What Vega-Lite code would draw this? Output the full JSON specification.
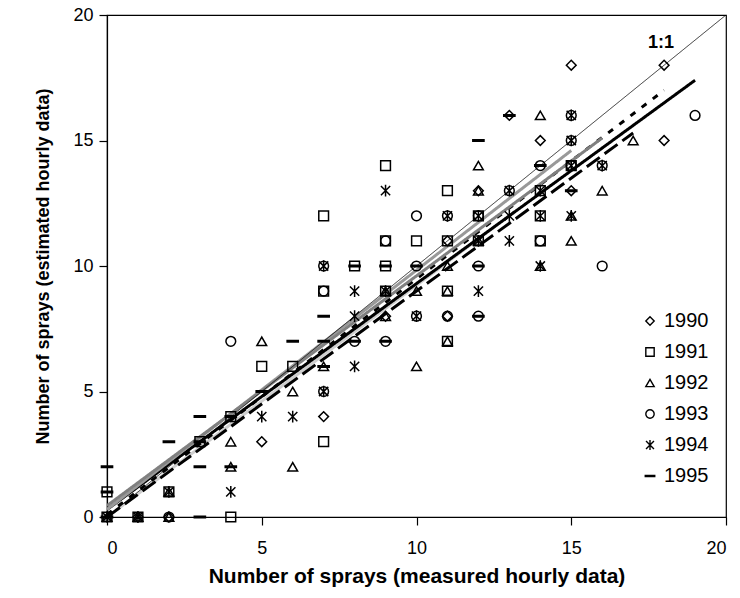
{
  "$schema": "https://vega.github.io/schema/vega-lite/v6.json",
  "width": 619,
  "height": 502,
  "autosize": "none",
  "padding": {"left": 107, "top": 15, "right": 14, "bottom": 81},
  "background": "white",
  "config": {
    "font": "Liberation Sans",
    "view": {"stroke": "black", "strokeWidth": 1.2},
    "axis": {"grid": false, "domainColor": "black", "tickColor": "black", "labelColor": "black", "titleColor": "black", "labelFont": "Liberation Sans", "titleFont": "Liberation Sans", "labelFontSize": 18, "titleFontWeight": "bold", "tickSize": 8, "domainWidth": 1.2, "tickWidth": 1.2}
  },
  "resolve": {"scale": {"color": "independent", "strokeDash": "independent", "shape": "independent"}},
  "datasets": {
    "pts": [
      {"year": "1991", "x": 0, "y": 0}, {"year": "1992", "x": 0, "y": 0}, {"year": "1994", "x": 0, "y": 0}, {"year": "1995", "x": 0, "y": 0},
      {"year": "1991", "x": 0, "y": 1}, {"year": "1995", "x": 0, "y": 1}, {"year": "1995", "x": 0, "y": 2},
      {"year": "1990", "x": 1, "y": 0}, {"year": "1991", "x": 1, "y": 0}, {"year": "1992", "x": 1, "y": 0}, {"year": "1994", "x": 1, "y": 0},
      {"year": "1992", "x": 2, "y": 0}, {"year": "1993", "x": 2, "y": 0}, {"year": "1990", "x": 2, "y": 0},
      {"year": "1994", "x": 2, "y": 1}, {"year": "1991", "x": 2, "y": 1}, {"year": "1992", "x": 2, "y": 1}, {"year": "1995", "x": 2, "y": 3},
      {"year": "1995", "x": 3, "y": 0}, {"year": "1995", "x": 3, "y": 2}, {"year": "1991", "x": 3, "y": 3}, {"year": "1995", "x": 3, "y": 3}, {"year": "1995", "x": 3, "y": 4},
      {"year": "1991", "x": 4, "y": 0}, {"year": "1994", "x": 4, "y": 1}, {"year": "1992", "x": 4, "y": 2}, {"year": "1995", "x": 4, "y": 2},
      {"year": "1992", "x": 4, "y": 3}, {"year": "1991", "x": 4, "y": 4}, {"year": "1995", "x": 4, "y": 4}, {"year": "1993", "x": 4, "y": 7},
      {"year": "1990", "x": 5, "y": 3}, {"year": "1994", "x": 5, "y": 4}, {"year": "1995", "x": 5, "y": 5}, {"year": "1991", "x": 5, "y": 6}, {"year": "1992", "x": 5, "y": 7},
      {"year": "1992", "x": 6, "y": 2}, {"year": "1994", "x": 6, "y": 4}, {"year": "1992", "x": 6, "y": 5}, {"year": "1991", "x": 6, "y": 6}, {"year": "1995", "x": 6, "y": 7},
      {"year": "1991", "x": 7, "y": 3}, {"year": "1990", "x": 7, "y": 4}, {"year": "1994", "x": 7, "y": 5}, {"year": "1993", "x": 7, "y": 5},
      {"year": "1992", "x": 7, "y": 6}, {"year": "1995", "x": 7, "y": 6}, {"year": "1995", "x": 7, "y": 7}, {"year": "1995", "x": 7, "y": 8},
      {"year": "1991", "x": 7, "y": 9}, {"year": "1993", "x": 7, "y": 9}, {"year": "1994", "x": 7, "y": 10}, {"year": "1993", "x": 7, "y": 10}, {"year": "1991", "x": 7, "y": 12},
      {"year": "1994", "x": 8, "y": 6}, {"year": "1993", "x": 8, "y": 7}, {"year": "1995", "x": 8, "y": 7}, {"year": "1994", "x": 8, "y": 8}, {"year": "1994", "x": 8, "y": 9},
      {"year": "1991", "x": 8, "y": 10}, {"year": "1995", "x": 8, "y": 10},
      {"year": "1993", "x": 9, "y": 7}, {"year": "1995", "x": 9, "y": 7}, {"year": "1992", "x": 9, "y": 8}, {"year": "1990", "x": 9, "y": 8},
      {"year": "1991", "x": 9, "y": 9}, {"year": "1994", "x": 9, "y": 9}, {"year": "1992", "x": 9, "y": 9},
      {"year": "1991", "x": 9, "y": 10}, {"year": "1995", "x": 9, "y": 10}, {"year": "1991", "x": 9, "y": 11}, {"year": "1993", "x": 9, "y": 11},
      {"year": "1994", "x": 9, "y": 13}, {"year": "1991", "x": 9, "y": 14},
      {"year": "1992", "x": 10, "y": 6}, {"year": "1994", "x": 10, "y": 8}, {"year": "1993", "x": 10, "y": 8}, {"year": "1992", "x": 10, "y": 9},
      {"year": "1993", "x": 10, "y": 10}, {"year": "1995", "x": 10, "y": 10}, {"year": "1991", "x": 10, "y": 11}, {"year": "1993", "x": 10, "y": 12},
      {"year": "1991", "x": 11, "y": 7}, {"year": "1992", "x": 11, "y": 7}, {"year": "1990", "x": 11, "y": 8}, {"year": "1993", "x": 11, "y": 8},
      {"year": "1991", "x": 11, "y": 9}, {"year": "1992", "x": 11, "y": 9}, {"year": "1992", "x": 11, "y": 10},
      {"year": "1991", "x": 11, "y": 11}, {"year": "1990", "x": 11, "y": 11}, {"year": "1994", "x": 11, "y": 12}, {"year": "1993", "x": 11, "y": 12}, {"year": "1991", "x": 11, "y": 13},
      {"year": "1993", "x": 12, "y": 8}, {"year": "1995", "x": 12, "y": 8}, {"year": "1994", "x": 12, "y": 9}, {"year": "1993", "x": 12, "y": 10}, {"year": "1995", "x": 12, "y": 10},
      {"year": "1991", "x": 12, "y": 11}, {"year": "1994", "x": 12, "y": 11}, {"year": "1992", "x": 12, "y": 11},
      {"year": "1991", "x": 12, "y": 12}, {"year": "1994", "x": 12, "y": 12}, {"year": "1993", "x": 12, "y": 12},
      {"year": "1992", "x": 12, "y": 13}, {"year": "1990", "x": 12, "y": 13}, {"year": "1992", "x": 12, "y": 14}, {"year": "1995", "x": 12, "y": 15},
      {"year": "1994", "x": 13, "y": 11}, {"year": "1994", "x": 13, "y": 12}, {"year": "1994", "x": 13, "y": 13}, {"year": "1993", "x": 13, "y": 13},
      {"year": "1990", "x": 13, "y": 16}, {"year": "1995", "x": 13, "y": 16},
      {"year": "1994", "x": 14, "y": 10}, {"year": "1992", "x": 14, "y": 10}, {"year": "1991", "x": 14, "y": 11}, {"year": "1993", "x": 14, "y": 11},
      {"year": "1994", "x": 14, "y": 12}, {"year": "1991", "x": 14, "y": 12}, {"year": "1991", "x": 14, "y": 13}, {"year": "1994", "x": 14, "y": 13},
      {"year": "1993", "x": 14, "y": 14}, {"year": "1995", "x": 14, "y": 14}, {"year": "1990", "x": 14, "y": 15}, {"year": "1992", "x": 14, "y": 16},
      {"year": "1992", "x": 15, "y": 11}, {"year": "1994", "x": 15, "y": 12}, {"year": "1992", "x": 15, "y": 12},
      {"year": "1990", "x": 15, "y": 13}, {"year": "1995", "x": 15, "y": 13},
      {"year": "1994", "x": 15, "y": 14}, {"year": "1993", "x": 15, "y": 14}, {"year": "1991", "x": 15, "y": 14},
      {"year": "1994", "x": 15, "y": 15}, {"year": "1993", "x": 15, "y": 15}, {"year": "1994", "x": 15, "y": 16}, {"year": "1993", "x": 15, "y": 16},
      {"year": "1990", "x": 15, "y": 18},
      {"year": "1993", "x": 16, "y": 10}, {"year": "1992", "x": 16, "y": 13}, {"year": "1994", "x": 16, "y": 14}, {"year": "1993", "x": 16, "y": 14},
      {"year": "1992", "x": 17, "y": 15},
      {"year": "1990", "x": 18, "y": 15}, {"year": "1990", "x": 18, "y": 18},
      {"year": "1993", "x": 19, "y": 16}
    ],
    "lines": [
      {"line": "1995", "x": 0, "y": 0.0}, {"line": "1995", "x": 13, "y": 12.0},
      {"line": "1990", "x": 0, "y": 0.1}, {"line": "1990", "x": 18, "y": 17.0},
      {"line": "1992", "x": 0, "y": 0.0}, {"line": "1992", "x": 17, "y": 15.3},
      {"line": "1993", "x": 0, "y": 0.3}, {"line": "1993", "x": 19, "y": 17.4},
      {"line": "1991", "x": 0, "y": 0.3}, {"line": "1991", "x": 15, "y": 14.6},
      {"line": "1994", "x": 0, "y": 0.45}, {"line": "1994", "x": 16, "y": 15.1},
      {"line": "1:1", "x": 0, "y": 0}, {"line": "1:1", "x": 20, "y": 20}
    ],
    "label": [{"x": 17.9, "y": 18.9, "t": "1:1"}]
  },
  "layer": [
    {
      "data": {"name": "lines"},
      "mark": {"type": "line", "clip": true},
      "encoding": {
        "x": {"field": "x", "type": "quantitative", "scale": {"domain": [0, 20]}, "axis": {"values": [0, 5, 10, 15, 20], "title": "Number of sprays (measured hourly data)", "titleFontSize": 21, "labelPadding": 14, "titlePadding": 8}},
        "y": {"field": "y", "type": "quantitative", "scale": {"domain": [0, 20]}, "axis": {"values": [0, 5, 10, 15, 20], "title": "Number of sprays (estimated hourly data)", "titleFontSize": 18, "labelPadding": 6, "titlePadding": 20}},
        "detail": {"field": "line"},
        "color": {"field": "line", "type": "nominal", "legend": null, "scale": {"domain": ["1995", "1990", "1992", "1993", "1991", "1994", "1:1"], "range": ["#cfcfcf", "black", "black", "black", "#999999", "#808080", "black"]}},
        "strokeDash": {"field": "line", "type": "nominal", "legend": null, "scale": {"domain": ["1995", "1990", "1992", "1993", "1991", "1994", "1:1"], "range": [[1, 0], [6, 8], [16, 6], [1, 0], [1, 0], [1, 0], [1, 0]]}},
        "strokeWidth": {"condition": {"test": "datum.line === '1:1'", "value": 0.8}, "value": 3},
        "order": {"field": "x"}
      }
    },
    {
      "data": {"name": "pts"},
      "mark": {"type": "point", "filled": false, "color": "black", "opacity": 1, "size": 95, "strokeWidth": 1.5},
      "encoding": {
        "x": {"field": "x", "type": "quantitative"},
        "y": {"field": "y", "type": "quantitative"},
        "shape": {"field": "year", "type": "nominal", "scale": {"domain": ["1990", "1991", "1992", "1993", "1994", "1995"], "range": ["diamond", "square", "triangle-up", "circle", "M-0.95,-0.95L0.95,0.95M-0.95,0.95L0.95,-0.95M0,-1.2L0,1.2", "M-1.3,-0.15L1.3,-0.15M-1.3,0L1.3,0M-1.3,0.15L1.3,0.15"]},
          "legend": {"title": null, "orient": "none", "legendX": 533, "legendY": 296, "labelFontSize": 20, "labelFont": "Liberation Sans", "labelColor": "black", "symbolSize": 70, "symbolStrokeWidth": 1.4, "rowPadding": 11, "labelOffset": 4, "symbolStrokeColor": "black", "symbolFillColor": "transparent"}}
      }
    },
    {
      "data": {"name": "label"},
      "mark": {"type": "text", "fontWeight": "bold", "fontSize": 18, "font": "Liberation Sans", "color": "black"},
      "encoding": {
        "x": {"field": "x", "type": "quantitative"},
        "y": {"field": "y", "type": "quantitative"},
        "text": {"field": "t"}
      }
    }
  ]
}
